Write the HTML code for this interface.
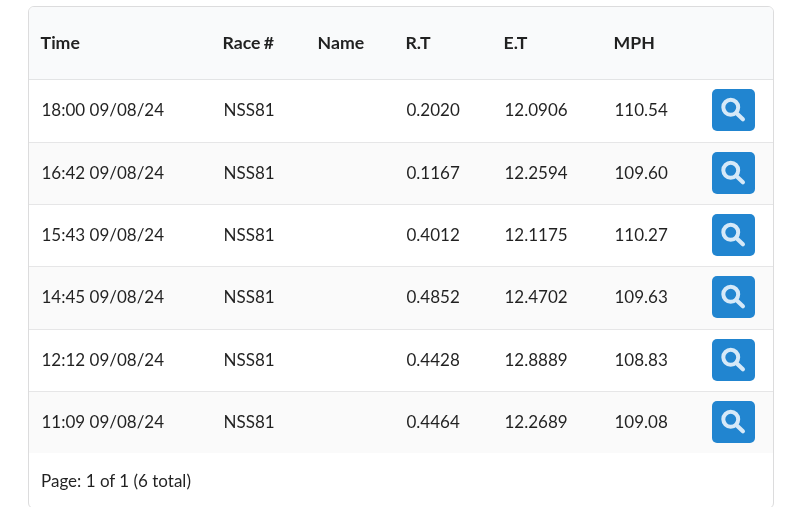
<!DOCTYPE html>
<html><head><meta charset="utf-8">
<style>
html,body{margin:0;padding:0;background:#fff;width:800px;height:507px;overflow:hidden;}
body{font-family:Lato,"Liberation Sans",sans-serif;color:rgba(0,0,0,.87);position:relative;}
.card{position:absolute;left:28px;top:6px;width:744px;height:501px;border:1px solid #dcdcdd;border-radius:6px;background:#fff;overflow:hidden;}
.hd{position:absolute;left:0;top:0;width:744px;height:72px;background:#f9fafb;border-bottom:1px solid #e3e4e5;}
.r{position:absolute;left:0;width:744px;}
.b{border-bottom:1px solid #e6e6e7;}
.g{background:#fafafa;}
.t{position:absolute;font-size:17px;line-height:20px;white-space:nowrap;}
.h{font-size:17.7px;font-weight:700;word-spacing:-1px;}
.btn{position:absolute;left:683px;width:43px;height:42px;border-radius:5px;background:#2185d0;}
.btn svg{position:absolute;left:0;top:0;}
</style></head><body>
<div class="card">
  <div class="hd">
    <span class="t h" style="left:11.6px;top:25.6px">Time</span>
    <span class="t h" style="left:193.5px;top:25.6px">Race #</span>
    <span class="t h" style="left:288.6px;top:25.6px">Name</span>
    <span class="t h" style="left:376.5px;top:25.6px">R.T</span>
    <span class="t h" style="left:474.5px;top:25.6px">E.T</span>
    <span class="t h" style="left:584.5px;top:25.6px">MPH</span>
  </div>
  <div class="r b" style="top:73px;height:62px">
    <span class="t" style="left:12.5px;top:20.4px">18:00 09/08/24</span>
    <span class="t" style="left:194.5px;top:20.4px">NSS81</span>
    <span class="t" style="left:377.5px;top:20.4px">0.2020</span>
    <span class="t" style="left:475.5px;top:20.4px">12.0906</span>
    <span class="t" style="left:585.5px;top:20.4px">110.54</span>
    <div class="btn" style="top:9px"><svg width="43" height="42" viewBox="0 0 43 42"><circle cx="18.75" cy="18.3" r="7.45" fill="none" stroke="#d6e9f8" stroke-width="4"/><line x1="24.3" y1="23.9" x2="30.9" y2="30.2" stroke="#d6e9f8" stroke-width="4.2" stroke-linecap="round"/></svg></div>
  </div>
  <div class="r g b" style="top:136px;height:61px">
    <span class="t" style="left:12.5px;top:20.4px">16:42 09/08/24</span>
    <span class="t" style="left:194.5px;top:20.4px">NSS81</span>
    <span class="t" style="left:377.5px;top:20.4px">0.1167</span>
    <span class="t" style="left:475.5px;top:20.4px">12.2594</span>
    <span class="t" style="left:585.5px;top:20.4px">109.60</span>
    <div class="btn" style="top:9px"><svg width="43" height="42" viewBox="0 0 43 42"><circle cx="18.75" cy="18.3" r="7.45" fill="none" stroke="#d6e9f8" stroke-width="4"/><line x1="24.3" y1="23.9" x2="30.9" y2="30.2" stroke="#d6e9f8" stroke-width="4.2" stroke-linecap="round"/></svg></div>
  </div>
  <div class="r b" style="top:198px;height:61px">
    <span class="t" style="left:12.5px;top:20.4px">15:43 09/08/24</span>
    <span class="t" style="left:194.5px;top:20.4px">NSS81</span>
    <span class="t" style="left:377.5px;top:20.4px">0.4012</span>
    <span class="t" style="left:475.5px;top:20.4px">12.1175</span>
    <span class="t" style="left:585.5px;top:20.4px">110.27</span>
    <div class="btn" style="top:9px"><svg width="43" height="42" viewBox="0 0 43 42"><circle cx="18.75" cy="18.3" r="7.45" fill="none" stroke="#d6e9f8" stroke-width="4"/><line x1="24.3" y1="23.9" x2="30.9" y2="30.2" stroke="#d6e9f8" stroke-width="4.2" stroke-linecap="round"/></svg></div>
  </div>
  <div class="r g b" style="top:260px;height:62px">
    <span class="t" style="left:12.5px;top:20.4px">14:45 09/08/24</span>
    <span class="t" style="left:194.5px;top:20.4px">NSS81</span>
    <span class="t" style="left:377.5px;top:20.4px">0.4852</span>
    <span class="t" style="left:475.5px;top:20.4px">12.4702</span>
    <span class="t" style="left:585.5px;top:20.4px">109.63</span>
    <div class="btn" style="top:9px"><svg width="43" height="42" viewBox="0 0 43 42"><circle cx="18.75" cy="18.3" r="7.45" fill="none" stroke="#d6e9f8" stroke-width="4"/><line x1="24.3" y1="23.9" x2="30.9" y2="30.2" stroke="#d6e9f8" stroke-width="4.2" stroke-linecap="round"/></svg></div>
  </div>
  <div class="r b" style="top:323px;height:61px">
    <span class="t" style="left:12.5px;top:20.4px">12:12 09/08/24</span>
    <span class="t" style="left:194.5px;top:20.4px">NSS81</span>
    <span class="t" style="left:377.5px;top:20.4px">0.4428</span>
    <span class="t" style="left:475.5px;top:20.4px">12.8889</span>
    <span class="t" style="left:585.5px;top:20.4px">108.83</span>
    <div class="btn" style="top:9px"><svg width="43" height="42" viewBox="0 0 43 42"><circle cx="18.75" cy="18.3" r="7.45" fill="none" stroke="#d6e9f8" stroke-width="4"/><line x1="24.3" y1="23.9" x2="30.9" y2="30.2" stroke="#d6e9f8" stroke-width="4.2" stroke-linecap="round"/></svg></div>
  </div>
  <div class="r g" style="top:385px;height:61px">
    <span class="t" style="left:12.5px;top:20.4px">11:09 09/08/24</span>
    <span class="t" style="left:194.5px;top:20.4px">NSS81</span>
    <span class="t" style="left:377.5px;top:20.4px">0.4464</span>
    <span class="t" style="left:475.5px;top:20.4px">12.2689</span>
    <span class="t" style="left:585.5px;top:20.4px">109.08</span>
    <div class="btn" style="top:9px"><svg width="43" height="42" viewBox="0 0 43 42"><circle cx="18.75" cy="18.3" r="7.45" fill="none" stroke="#d6e9f8" stroke-width="4"/><line x1="24.3" y1="23.9" x2="30.9" y2="30.2" stroke="#d6e9f8" stroke-width="4.2" stroke-linecap="round"/></svg></div>
  </div>
  <div class="t" style="left:12px;top:464px">Page: 1 of 1 (6 total)</div>
</div>
</body></html>
